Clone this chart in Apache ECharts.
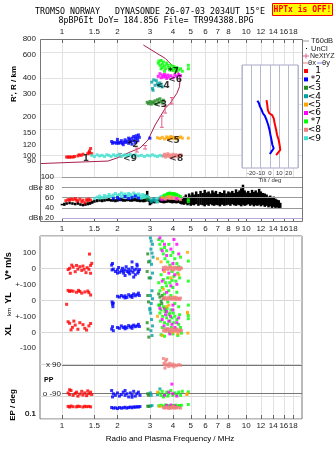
<!DOCTYPE html>
<html>
<head>
<meta charset="utf-8">
<script src="https://cdn.jsdelivr.net/npm/echarts@6/dist/echarts.min.js"></script>
<style>
  html, body { margin: 0; padding: 0; background: #fff; }
  #chart { width: 335px; height: 451px; }
</style>
</head>
<body>
<div id="chart"></div>
<script>
const lg = Math.log10

// axis ranges (MHz, km, dB)
const fMin = 0.76, fMax = 20.07
const hMin = 67.9, hMax = 800
const dbMin = 12.6, dbMax = 100
const lowMin = -942, lowMax = 202
// lower panel rows share one scale: 1 unit = 1 m/s = 1 km = 1 deg
const ylZero = -200, xlZero = -400, ppZero = -694
const epTen = -865, epDecade = 22.8

const freqTicks = [1, 1.5, 2, 3, 4, 5, 6, 7, 8, 10, 12, 14, 16, 18]
const dbFreqTicks = [1, 1.5, 2, 3, 4, 5, 6, 7, 8, 9, 10, 12, 14, 16, 18]
const heightTicks = [80, 90, 100, 120, 150, 200, 300, 400, 600, 800]
const dbTicks = [20, 40, 60, 80, 100]
const lowTicks = [100, 0, -100, -200, -300, -400, -500, -865, -910.6]
const lowTickText = ['100', '0', '+-100', '0', '+-100', '0', '-100', '10.', '0.1']
const tiltTicks = [-20, -10, 0, 10, 20]

const classNames = ['1', '*2', '<3', '<4', '<5', '<6', '*7', '<8', '<9']
const classColors = ['#ff0000', '#0000ff', '#228b22', '#00a0a0', '#ffa500', '#ff00ff', '#00ff00', '#f08080', '#40e0d0']

// echoes: [freq MHz, virtual height km, class]
const echoHeights = [
  [1.06,97,1],[1.08,97,1],[1.1,97,1],[1.12,97,1],[1.15,97,1],[1.17,98,1],[1.22,99,1],[1.24,101,1],[1.27,100,1],[1.3,102,1],[1.38,103,1],[1.4,105,1],[1.42,104,1],[1.45,103,1],[1.41,108,1],[1.43,113,1],
  [1.86,128,2],[1.88,124,2],[1.92,126,2],[1.97,124,2],[2.0,127,2],[2.03,124,2],[2.07,126,2],[2.1,130,2],[2.12,124,2],[2.17,127,2],[2.2,132,2],[2.22,126,2],[2.26,129,2],[2.3,124,2],[2.33,133,2],[2.36,128,2],[2.4,136,2],[2.43,130,2],[2.45,140,2],[2.5,135,2],[2.53,142,2],[2.56,136,2],[2.6,144,2],[2.63,138,2],[2.3,136,2],[2.15,121,2],[2.4,122,2],[2.5,126,2],[2.58,130,2],[2.0,133,2],[3.0,136,2],
  [1.45,100,9],[1.5,98,9],[1.55,101,9],[1.6,99,9],[1.65,100,9],[1.7,98,9],[1.75,101,9],[1.8,100,9],[1.85,98,9],[1.9,101,9],[1.95,99,9],[2.0,100,9],[2.05,102,9],[2.1,98,9],[2.15,100,9],[2.2,101,9],[2.25,99,9],[2.3,100,9],[2.35,102,9],[2.4,98,9],[2.45,100,9],[2.5,101,9],[2.6,99,9],[2.7,100,9],[2.8,98,9],[2.9,100,9],[3.0,99,9],[3.1,101,9],[3.2,99,9],[3.3,98,9],[3.4,100,9],[3.5,99,9],
  [3.55,99,8],[3.6,102,8],[3.65,97,8],[3.7,100,8],[3.75,103,8],[3.8,98,8],[3.85,101,8],[3.9,96,8],[3.95,99,8],[4.0,102,8],[4.05,97,8],[4.1,100,8],[4.15,101,8],[4.2,98,8],[4.25,100,8],[4.3,99,8],[4.4,101,8],[4.45,100,8],
  [3.3,137,5],[3.4,135,5],[3.5,138,5],[3.6,134,5],[3.7,139,5],[3.75,136,5],[3.8,133,5],[3.85,137,5],[3.9,140,5],[3.95,135,5],[4.0,138,5],[4.1,136,5],[4.2,134,5],[4.3,137,5],[4.4,139,5],[4.5,136,5],[4.85,136,5],
  [2.9,258,3],[2.95,252,3],[3.0,262,3],[3.05,250,3],[3.1,260,3],[3.15,255,3],[3.2,265,3],[3.25,250,3],[3.3,270,3],[3.35,258,3],[3.4,275,3],[3.45,262,3],[3.5,255,3],[3.55,268,3],
  [3.07,370,4],[3.1,330,4],[3.12,320,4],[3.2,350,4],[3.25,380,4],[3.3,360,4],[3.35,345,4],[3.4,365,4],[3.45,350,4],[3.5,340,4],[3.15,385,4],
  [3.33,410,6],[3.4,430,6],[3.45,400,6],[3.5,420,6],[3.55,405,6],[3.6,425,6],[3.65,410,6],[3.7,395,6],[3.75,420,6],[3.8,405,6],[3.9,415,6],[4.0,400,6],[4.1,420,6],[4.2,410,6],[4.3,425,6],[4.4,415,6],
  [3.33,520,7],[3.36,540,7],[3.4,500,7],[3.45,545,7],[3.5,510,7],[3.5,480,7],[3.55,530,7],[3.6,495,7],[3.65,470,7],[3.7,520,7],[3.75,500,7],[3.8,480,7],[3.85,460,7],[3.9,500,7],[3.95,470,7],[4.0,455,7],[4.05,490,7],[4.1,470,7],[4.15,450,7],[4.2,480,7],[4.3,460,7],[4.4,470,7],[4.5,450,7],[4.85,500,7],[4.85,470,7],[3.6,450,7],[3.45,470,7]
]

// echo amplitudes: [freq MHz, dB, class]
const echoAmplitudes = [
  [1.05,54,1],[1.08,56,1],[1.1,55,1],[1.12,57,1],[1.15,56,1],[1.18,58,1],[1.2,55,1],[1.22,53,1],[1.25,57,1],[1.28,52,1],[1.3,55,1],[1.33,50,1],[1.36,56,1],[1.38,54,1],[1.4,57,1],[1.43,55,1],
  [1.5,58,9],[1.55,61,9],[1.6,63,9],[1.65,60,9],[1.7,64,9],[1.75,62,9],[1.8,66,9],[1.85,63,9],[1.9,65,9],[1.95,68,9],[2.0,64,9],[2.05,66,9],[2.1,69,9],[2.15,65,9],[2.2,67,9],[2.25,64,9],[2.3,68,9],[2.35,66,9],[2.4,63,9],[2.45,69,9],[2.5,66,9],[2.55,64,9],[2.6,67,9],[2.65,65,9],[2.7,62,9],[2.75,66,9],[2.8,64,9],[2.85,61,9],[2.9,63,9],[2.95,60,9],
  [1.6,59,9],[1.7,60,9],[1.8,62,9],[1.9,61,9],[2.0,61,9],[2.1,62,9],[2.2,61,9],[2.3,63,9],[2.4,60,9],[2.5,62,9],[2.6,61,9],[2.7,59,9],[2.8,60,9],[3.2,56,9],[3.3,58,9],[3.4,60,9],[3.45,62,9],[3.5,59,9],[3.55,61,9],[3.25,53,9],[3.3,51,9],
  [1.9,58,2],[2.0,60,2],[2.05,57,2],[2.2,62,2],[2.3,58,2],[2.4,60,2],[2.5,63,2],[2.6,59,2],
  [3.0,56,4],[3.05,52,4],[3.1,55,4],[3.15,58,4],[3.2,54,4],
  [2.9,57,3],[3.4,57,3],
  [3.55,58,8],[3.6,60,8],[3.65,57,8],[3.7,61,8],[3.75,59,8],[3.8,62,8],[3.85,58,8],[3.9,60,8],[3.95,61,8],[4.0,59,8],[4.05,62,8],[4.1,58,8],[4.15,60,8],[4.2,57,8],[4.3,59,8],[4.4,56,8],
  [3.55,63,7],[3.6,65,7],[3.7,66,7],[3.75,68,7],[3.8,67,7],[3.85,69,7],[3.9,67,7],[3.95,68,7],[4.0,66,7],[4.05,68,7],[4.1,67,7],[4.15,65,7],[4.2,66,7],[4.3,64,7],[4.4,62,7],[4.85,52,7],[4.85,56,7],
  [3.45,58,6],[3.5,56,6],[4.2,58,6],
  [3.5,60,5],[3.8,62,5]
]

// noise band under the echoes: [freq MHz, low dB, high dB]
const noiseBand = [
  [1.0,45,48],[1.03,44,50],[1.06,46,51],[1.1,47,52],[1.14,46,51],[1.18,45,50],[1.22,46,52],[1.26,44,49],[1.3,43,48],[1.34,44,50],[1.38,45,51],[1.42,46,52],[1.46,48,54],[1.5,50,56],
  [1.55,51,57],[1.6,52,58],[1.65,51,57],[1.7,52,58],[1.75,53,58],[1.8,53,59],[1.85,52,57],[1.9,52,58],[1.95,51,57],[2.0,52,57],[2.05,53,58],[2.1,53,59],[2.15,52,58],[2.2,52,57],[2.25,53,58],[2.3,53,58],[2.35,52,57],[2.4,52,58],[2.45,53,59],[2.5,53,59],[2.55,52,58],[2.6,52,57],[2.65,51,57],[2.7,52,58],[2.75,51,57],[2.8,51,58],[2.85,52,66],[2.9,54,73],[2.95,52,63],[3.0,45,55],
  [3.05,47,55],[3.1,50,56],[3.15,49,55],[3.2,49,55],[3.25,50,56],[3.3,50,57],[3.35,51,57],[3.4,51,56],[3.45,50,56],[3.5,50,57],[3.55,49,55],[3.6,49,55],[3.65,50,56],[3.7,50,56],[3.75,51,57],[3.8,51,57],[3.85,50,56],[3.9,50,56],[3.95,49,56],[4.0,49,55],[4.05,50,56],[4.1,50,56],[4.15,49,55],[4.2,49,55],[4.25,50,56],[4.3,50,56],[4.35,49,55],[4.4,48,55],[4.45,47,56],[4.5,47,58],
  [4.6,46,62],[4.7,48,66],[4.8,45,60],[4.9,47,68],[5.0,44,64],[5.1,46,70],[5.2,45,66],[5.35,47,72],[5.5,44,67],[5.65,46,73],[5.8,45,69],[5.95,43,75],[6.1,46,70],[6.25,44,72],[6.4,47,68],[6.55,45,74],[6.7,44,70],[6.85,46,73],
  [7.0,45,67],[7.2,43,71],[7.4,46,69],[7.6,44,74],[7.8,45,68],[8.0,46,72],[8.2,44,70],[8.4,47,73],[8.6,45,69],[8.8,44,76],[9.0,46,71],[9.2,45,74],[9.4,43,78],[9.6,46,85],[9.8,44,74],
  [10.0,45,70],[10.25,47,73],[10.5,44,69],[10.75,46,75],[11.0,43,71],[11.25,45,74],[11.5,44,70],[11.75,46,77],[12.0,43,72],[12.3,45,69],[12.6,42,68],[12.9,44,66],[13.2,41,62],[13.5,43,64],[13.8,40,60],[14.1,42,62],[14.4,40,58],[14.7,41,56],[15.0,39,55],[15.3,40,50]
]

// V* (m/s), YL (km), XL (km), PP (deg), EP (deg): [freq MHz, value, class]
const echoVelocity = [
  [1.08,-8,1],[1.1,0,1],[1.11,-31,1],[1.13,20,1],[1.15,8,1],[1.18,-21,1],[1.2,18,1],[1.22,-5,1],[1.25,10,1],[1.28,-13,1],[1.3,14,1],[1.32,-6,1],[1.35,-27,1],[1.37,4,1],[1.4,-6,1],[1.41,89,1],[1.43,-31,1],[1.45,31,1],[1.43,18,1],
  [1.86,20,2],[1.87,-10,2],[1.88,30,2],[1.9,-5,2],[1.95,-20,2],[2.0,-10,2],[2.03,5,2],[2.06,-25,2],[2.1,-15,2],[2.13,0,2],[2.16,-30,2],[2.2,-10,2],[2.23,10,2],[2.26,-20,2],[2.3,-5,2],[2.33,-35,2],[2.36,-15,2],[2.4,5,2],[2.43,-25,2],[2.46,-10,2],[2.5,-40,2],[2.53,-5,2],[2.56,15,2],[2.6,-20,2],[2.63,-8,2],[2.4,40,2],[2.55,25,2],[2.2,-45,2],[2.45,-55,2],[2.0,-30,2],[2.3,-25,2],[2.15,-18,2],[2.58,-30,2],
  [3.02,190,4],[3.05,170,4],[3.1,150,4],[3.04,120,4],[3.08,95,4],[3.12,70,4],[3.0,45,4],[3.06,25,4],[3.1,-30,4],[3.03,-60,4],
  [2.92,90,3],[2.95,40,3],[2.9,-20,3],[2.97,-60,3],
  [3.35,180,7],[3.4,150,7],[3.45,120,7],[3.5,170,7],[3.55,90,7],[3.6,130,7],[3.62,60,7],[3.7,110,7],[3.75,40,7],[3.8,150,7],[3.85,20,7],[3.9,80,7],[3.95,-20,7],[4.0,100,7],[4.05,-50,7],[4.1,60,7],[4.15,-80,7],[4.2,30,7],[4.25,-30,7],[4.3,10,7],[4.35,-60,7],[4.4,70,7],[3.45,-40,7],[3.55,-70,7],[3.65,-90,7],[3.75,-60,7],[3.85,-90,7],[3.95,-75,7],[4.85,45,7],[4.85,-80,7],
  [3.4,190,6],[3.5,110,6],[3.6,150,6],[3.7,80,6],[3.8,-30,6],[3.9,120,6],[4.0,30,6],[4.05,180,6],[4.1,-40,6],[4.2,150,6],[3.55,-10,6],[4.3,90,6],
  [3.3,60,5],[3.6,-20,5],[3.9,-60,5],[4.3,-40,5],[4.8,100,5],[3.45,40,5],
  [3.55,5,8],[3.6,-5,8],[3.65,8,8],[3.7,0,8],[3.75,-8,8],[3.8,6,8],[3.85,-3,8],[3.9,10,8],[3.95,-6,8],[4.0,3,8],[4.05,-10,8],[4.1,7,8],[4.15,-2,8],[4.2,5,8],[4.25,-5,8],[4.3,2,8],[4.35,-8,8],[4.4,4,8],[4.45,0,8]
]
const echoYL = [
  [1.08,62,1],[1.1,55,1],[1.12,60,1],[1.15,57,1],[1.2,50,1],[1.23,62,1],[1.25,55,1],[1.28,45,1],[1.33,52,1],[1.38,58,1],[1.4,48,1],[1.43,33,1],[1.06,-25,1],
  [1.87,-10,2],[1.88,-25,2],[1.89,-40,2],[1.9,-18,2],[2.0,25,2],[2.05,20,2],[2.1,30,2],[2.15,22,2],[2.2,28,2],[2.25,18,2],[2.3,35,2],[2.35,25,2],[2.4,30,2],[2.45,40,2],[2.5,28,2],[2.55,35,2],[2.6,45,2],[2.63,30,2],[2.2,15,2],[2.4,18,2],
  [3.02,30,4],[3.05,-20,4],[3.08,60,4],[3.1,10,4],[3.0,-60,4],
  [2.92,30,3],[2.95,-10,3],[3.35,40,3],[3.4,20,3],[3.45,-5,3],[3.5,30,3],[3.55,10,3],[3.38,-30,3],[3.48,-20,3],
  [3.35,110,7],[3.4,60,7],[3.5,80,7],[3.6,40,7],[3.7,90,7],[3.75,-10,7],[3.8,60,7],[3.9,30,7],[4.0,80,7],[4.1,-20,7],[4.2,50,7],[4.3,-40,7],[3.65,-60,7],[3.85,-80,7],[4.85,-30,7],
  [3.5,120,6],[3.7,50,6],[3.9,90,6],[4.0,-30,6],[4.2,100,6],[3.6,-50,6],
  [3.55,70,5],[3.8,-30,5],[4.1,20,5],[4.8,-75,5],
  [3.55,12,8],[3.6,18,8],[3.65,8,8],[3.7,15,8],[3.75,5,8],[3.8,20,8],[3.85,10,8],[3.9,14,8],[3.95,6,8],[4.0,18,8],[4.05,9,8],[4.1,13,8],[4.15,4,8],[4.2,16,8],[4.25,8,8],[4.3,11,8],[4.35,5,8],[4.4,14,8]
]
const echoXL = [
  [1.08,66,1],[1.1,56,1],[1.14,31,1],[1.16,70,1],[1.18,45,1],[1.22,19,1],[1.25,60,1],[1.3,48,1],[1.33,25,1],[1.36,14,1],[1.4,40,1],[1.43,55,1],[1.12,15,1],
  [1.86,20,2],[1.88,35,2],[1.9,10,2],[2.0,30,2],[2.05,25,2],[2.1,40,2],[2.15,30,2],[2.2,35,2],[2.25,28,2],[2.3,42,2],[2.35,32,2],[2.4,38,2],[2.45,45,2],[2.5,35,2],[2.55,40,2],[2.6,50,2],[2.63,36,2],[2.2,22,2],[2.4,25,2],
  [3.0,150,4],[3.03,120,4],[3.06,80,4],[3.1,40,4],[3.04,10,4],[3.08,-20,4],
  [2.9,60,3],[2.93,20,3],[2.96,-30,3],
  [3.35,170,7],[3.4,120,7],[3.42,70,7],[3.45,140,7],[3.5,30,7],[3.52,100,7],[3.55,160,7],[3.6,60,7],[3.62,130,7],[3.65,20,7],[3.7,90,7],[3.72,150,7],[3.75,50,7],[3.8,110,7],[3.82,0,7],[3.85,70,7],[3.9,140,7],[3.92,30,7],[3.95,90,7],[4.0,-10,7],[4.02,120,7],[4.05,60,7],[4.1,100,7],[4.15,20,7],[4.2,80,7],[4.25,-20,7],[4.3,50,7],[4.35,110,7],[4.4,30,7],[4.45,-5,7],[3.45,-15,7],[3.6,-25,7],[4.85,85,7],[4.85,105,7],
  [3.4,150,6],[3.5,80,6],[3.58,40,6],[3.65,110,6],[3.7,130,6],[3.75,20,6],[3.8,70,6],[3.88,100,6],[3.95,50,6],[4.0,140,6],[4.1,30,6],[4.2,60,6],[4.3,90,6],[3.85,-10,6],
  [3.3,100,5],[3.5,-20,5],[3.7,160,5],[4.0,0,5],[4.25,-10,5],[4.8,120,5],[4.82,-5,5],
  [3.55,10,8],[3.6,20,8],[3.65,5,8],[3.7,15,8],[3.75,22,8],[3.8,8,8],[3.85,18,8],[3.9,3,8],[3.95,14,8],[4.0,25,8],[4.05,10,8],[4.1,16,8],[4.15,6,8],[4.2,20,8],[4.25,12,8],[4.3,2,8],[4.35,15,8],[4.4,8,8],[4.45,12,8]
]
const echoPol = [
  [1.08,-85,1],[1.1,-95,1],[1.12,-70,1],[1.15,-100,1],[1.18,-88,1],[1.2,-80,1],[1.22,-105,1],[1.25,-92,1],[1.28,-75,1],[1.3,-98,1],[1.33,-85,1],[1.36,-102,1],[1.38,-72,1],[1.4,-90,1],[1.43,-80,1],[1.45,-95,1],[1.1,-65,1],
  [1.86,-70,2],[1.88,-110,2],[1.9,-90,2],[1.95,-100,2],[2.0,-85,2],[2.05,-105,2],[2.1,-95,2],[2.15,-80,2],[2.2,-100,2],[2.25,-90,2],[2.3,-110,2],[2.35,-85,2],[2.4,-98,2],[2.45,-75,2],[2.5,-105,2],[2.55,-90,2],[2.6,-80,2],[2.65,-100,2],[2.2,-70,2],[2.4,-112,2],
  [3.02,-85,4],[3.05,-100,4],[3.4,-60,4],[3.3,-95,4],
  [2.92,-90,3],[2.95,-100,3],
  [3.35,-85,7],[3.45,-100,7],[3.5,-75,7],[3.6,-95,7],[3.7,-80,7],[3.75,-105,7],[3.8,-90,7],[3.9,-70,7],[4.0,-100,7],[4.1,-85,7],[4.2,-95,7],[4.3,-80,7],[4.4,-100,7],[4.5,-75,7],[4.85,-78,7],[3.55,-110,7],
  [3.6,-100,6],[3.8,-80,6],[4.0,-90,6],[3.95,-30,6],[4.2,-105,6],
  [3.3,-80,5],[4.75,-95,5],[4.8,-90,5],
  [3.55,130,8],[3.58,100,8],[3.6,92,8],[3.65,115,8],[3.7,88,8],[3.75,95,8],[3.8,80,8],[3.85,100,8],[3.9,90,8],[3.95,85,8],[4.0,95,8],[4.05,78,8],[4.1,90,8],[4.2,85,8],[4.3,92,8],[4.4,88,8],[3.7,125,8],[3.62,70,8]
]
const echoEP = [
  [1.08,12,1],[1.1,8,1],[1.12,15,1],[1.15,10,1],[1.2,9,1],[1.22,14,1],[1.25,11,1],[1.3,8,1],[1.33,13,1],[1.36,10,1],[1.4,12,1],[1.43,9,1],
  [1.86,6,2],[1.9,4,2],[1.95,5,2],[2.0,3,2],[2.05,6,2],[2.1,4,2],[2.15,5,2],[2.2,7,2],[2.25,4,2],[2.3,6,2],[2.35,8,2],[2.4,5,2],[2.45,9,2],[2.5,7,2],[2.55,10,2],[2.6,8,2],[2.65,11,2],
  [3.35,18,7],[3.45,25,7],[3.55,15,7],[3.65,30,7],[3.75,20,7],[3.85,14,7],[3.95,22,7],[4.05,18,7],[4.15,26,7],[4.25,16,7],[4.35,20,7],[4.45,24,7],[4.85,40,7],
  [3.02,15,4],[3.08,20,4],[2.92,14,3],[2.96,12,3],
  [3.7,22,6],[3.9,28,6],[4.1,16,6],[3.4,12,5],[4.0,10,5],
  [3.55,6,8],[3.6,4,8],[3.65,8,8],[3.7,5,8],[3.75,7,8],[3.8,3,8],[3.85,6,8],[3.9,4,8],[3.95,8,8],[4.0,5,8],[4.05,6,8],[4.1,4,8],[4.15,7,8],[4.2,5,8],[4.3,6,8],[4.4,4,8]
]

// real-height profile [freq MHz, km] and its error bars [freq, low km, high km]
const profile = [
  [0.76,86.3],[1.253,88.7],[1.78,90.3],[2.016,96.1],[2.343,106.1],[2.653,113.9],[2.93,131.5],[3.202,171.9],[3.41,199.4],[3.63,231.7],[3.864,253.3],[4.027,277],[4.203,302.9],[4.341,341],[4.379,396],[4.255,445.8],[4.027,487.5],[3.63,566.5],[3.271,619.6],[2.766,718.5]
]
const profileBars = [
  [2.066,97,103.3],[2.547,106.1,113.9],[2.826,111.9,119.2],[3.482,165,201.9],[3.63,213,241.4],[3.947,250,281]
]
const echoTags = [
  [1.35,94.8,'1'],[2.43,122,'*2'],[3.41,246,'<3'],[3.53,345,'<4'],[4.0,131,'<5'],[4.11,389,'<6'],[4.03,446,'*7'],[4.17,95,'<8'],[2.34,95,'<9']
]

// tilt profiles: [deg, km]
const tiltX = [
  [-3.7,268],[-2.9,245],[-2.3,224],[-0.8,212],[2.3,205],[4,193.5],[5,177],[6.6,157],[7.6,143.7],[9.3,131.5],[10.3,120.2],[11,110],[9.3,106.6],[6.6,100.5]
]
const tiltY = [
  [-13.5,265.6],[-11.8,253],[-10.7,238.5],[-8.9,224.5],[-7.6,211.9],[-5.5,202],[-3.7,187.9],[-1.9,171.8],[-0.5,157.4],[0.5,143.7],[1.6,131.5],[2.6,120.2],[4,113.3],[2.3,108.6],[-0.2,102.3]
]

const fmtFreq = v => String(Math.round(Math.pow(10, v) * 10) / 10)
const fmtHeight = v => String(Math.round(Math.pow(10, v)))
const fmtLow = v => {
  const i = lowTicks.findIndex(t => Math.abs(t - v) < 0.5)
  return i < 0 ? '' : lowTickText[i]
}
const fmtDb = v => (v === 80 ? 'dBe 80' : v === 20 ? 'dBn 20' : String(v))
const colorOf = p => classColors[p.value[2] - 1]

const lowPoints = [].concat(
  echoVelocity.map(([f, v, c]) => [lg(f), v, c]),
  echoYL.map(([f, v, c]) => [lg(f), ylZero + v, c]),
  echoXL.map(([f, v, c]) => [lg(f), xlZero + v, c]),
  echoPol.map(([f, v, c]) => [lg(f), ppZero + v, c]),
  echoEP.map(([f, v, c]) => [lg(f), epTen + epDecade * (lg(v) - 1), c])
)

const labelFont = { fontSize: 8, color: '#222', fontFamily: 'Liberation Sans' }
const freqAxis = (gridIndex, position, ticks, grid) => ({
  type: 'value', gridIndex, position,
  min: lg(fMin), max: lg(fMax),
  axisLine: { show: false, onZero: false },
  axisTick: { show: true, inside: true, length: 4, customValues: ticks.map(lg), lineStyle: { color: '#666' } },
  axisLabel: Object.assign({ customValues: ticks.map(lg), formatter: fmtFreq, margin: 3, hideOverlap: false }, labelFont),
  splitLine: { show: grid, lineStyle: { color: '#e2e2e2', width: 1 } }
})

const hline = (x0, y, color) => [{ coord: [x0, y], lineStyle: { color } }, { coord: [lg(fMax), y] }]

const text = (x, y, str, extra) => ({
  type: 'text', x, y, z: 20,
  style: Object.assign({ text: str, font: '8px "Liberation Sans"', fill: '#222', textAlign: 'left', textVerticalAlign: 'middle' }, extra || {})
})
const vtext = (x, y, str, font) => ({
  type: 'text', x, y, z: 20, rotation: Math.PI / 2,
  style: { text: str, font, fill: '#000', textAlign: 'center', textVerticalAlign: 'middle' }
})

const legendItems = classNames.map((name, i) => [
  { type: 'rect', z: 20, shape: { x: 304, y: 69 + i * 8.4, width: 4, height: 4 }, style: { fill: classColors[i] } },
  text(321, 71 + i * 8.4, name, { textAlign: 'right', font: '9px "DejaVu Sans"', fill: '#000' })
]).flat()

const chart = echarts.init(document.getElementById('chart'), null, { renderer: 'canvas' })
chart.setOption({
  animation: false,
  backgroundColor: '#fff',
  textStyle: { fontFamily: 'Liberation Sans' },
  grid: [
    { left: 40, top: 39, width: 262, height: 138, outerBoundsMode: 'none' },
    { left: 40, top: 177, width: 262, height: 45, outerBoundsMode: 'none' },
    { left: 40, top: 236, width: 262, height: 183, show: true, borderColor: '#777', borderWidth: 1, outerBoundsMode: 'none' },
    { left: 242, top: 65, width: 56, height: 103, z: 5, show: true, backgroundColor: '#fff', borderColor: '#a8a8c8', borderWidth: 1, outerBoundsMode: 'none' }
  ],
  xAxis: [
    freqAxis(0, 'top', freqTicks, true),
    freqAxis(1, 'bottom', dbFreqTicks, false),
    freqAxis(2, 'bottom', freqTicks, true),
    {
      type: 'value', gridIndex: 3, min: -30, max: 30, interval: 10, z: 6,
      axisLine: { show: false, onZero: false }, axisTick: { show: false },
      axisLabel: { customValues: tiltTicks, fontSize: 6, color: '#333', margin: 2, hideOverlap: false },
      splitLine: { show: true, lineStyle: { color: '#b8b8d0' } },
      name: 'Tilt / deg', nameLocation: 'middle', nameGap: 9, nameTextStyle: { fontSize: 6, color: '#333' }
    }
  ],
  yAxis: [
    {
      type: 'value', gridIndex: 0, min: lg(hMin), max: lg(hMax),
      axisLine: { show: false, onZero: false }, axisTick: { show: false },
      axisLabel: Object.assign({ customValues: heightTicks.map(lg), formatter: fmtHeight, margin: 4, hideOverlap: false }, labelFont),
      splitLine: { show: true, lineStyle: { color: '#e2e2e2' } }
    },
    {
      type: 'value', gridIndex: 1, min: dbMin, max: dbMax,
      axisLine: { show: false, onZero: false }, axisTick: { show: false },
      axisLabel: Object.assign({ customValues: dbTicks, formatter: fmtDb, inside: true, align: 'right', margin: 14, hideOverlap: false }, labelFont),
      splitLine: { show: false }
    },
    {
      type: 'value', gridIndex: 2, min: lowMin, max: lowMax,
      axisLine: { show: false, onZero: false }, axisTick: { show: false },
      axisLabel: Object.assign({ customValues: lowTicks, formatter: fmtLow, margin: 4, hideOverlap: false, showMinLabel: true, showMaxLabel: true }, labelFont),
      splitLine: { show: true, lineStyle: { color: '#d8d8d8' } }
    },
    { type: 'value', gridIndex: 3, min: lg(79.7), max: lg(502), show: false }
  ],
  series: [
    {
      type: 'line', xAxisIndex: 0, yAxisIndex: 0, z: 3,
      data: profile.map(([f, r]) => [lg(f), lg(r)]),
      showSymbol: false, lineStyle: { color: '#a8204c', width: 1 }
    },
    {
      type: 'custom', xAxisIndex: 0, yAxisIndex: 0, z: 4,
      data: profileBars.map(([f, a, b]) => [lg(f), lg(a), lg(b)]),
      encode: { x: 0, y: [1, 2] },
      renderItem: (params, api) => {
        const a = api.coord([api.value(0), api.value(1)])
        const b = api.coord([api.value(0), api.value(2)])
        const s = { stroke: '#e0608a', lineWidth: 1 }
        return {
          type: 'group', children: [
            { type: 'line', shape: { x1: a[0], y1: a[1], x2: b[0], y2: b[1] }, style: s },
            { type: 'line', shape: { x1: a[0] - 2, y1: a[1], x2: a[0] + 2, y2: a[1] }, style: s },
            { type: 'line', shape: { x1: b[0] - 2, y1: b[1], x2: b[0] + 2, y2: b[1] }, style: s }
          ]
        }
      }
    },
    {
      type: 'scatter', xAxisIndex: 0, yAxisIndex: 0, z: 5,
      symbol: 'rect', symbolSize: 3,
      data: echoHeights.map(([f, r, c]) => [lg(f), lg(r), c]),
      itemStyle: { color: colorOf }
    },
    {
      type: 'scatter', xAxisIndex: 0, yAxisIndex: 0, z: 6,
      symbolSize: 1, itemStyle: { color: 'rgba(0,0,0,0)' },
      data: echoTags.map(([f, r, t]) => ({ value: [lg(f), lg(r)], name: t })),
      label: { show: true, position: 'inside', formatter: '{b}', fontSize: 9, fontWeight: 'bold', color: '#000', fontFamily: 'DejaVu Sans' }
    },
    {
      type: 'line', xAxisIndex: 3, yAxisIndex: 3, z: 7,
      data: tiltX.map(([d, r]) => [d, lg(r)]), showSymbol: false,
      lineStyle: { color: '#ff0000', width: 2 }
    },
    {
      type: 'line', xAxisIndex: 3, yAxisIndex: 3, z: 7,
      data: tiltY.map(([d, r]) => [d, lg(r)]), showSymbol: false,
      lineStyle: { color: '#0000ff', width: 2 }
    },
    {
      type: 'custom', xAxisIndex: 1, yAxisIndex: 1, z: 3,
      data: noiseBand.map(([f, a, b]) => [lg(f), a, b]),
      encode: { x: 0, y: [1, 2] },
      renderItem: (params, api) => {
        const a = api.coord([api.value(0), api.value(1)])
        const b = api.coord([api.value(0), api.value(2)])
        return { type: 'rect', shape: { x: a[0] - 1.25, y: b[1], width: 2.5, height: a[1] - b[1] }, style: { fill: '#000' } }
      },
      markLine: {
        silent: true, symbol: 'none', label: { show: false }, lineStyle: { type: 'solid', width: 1 },
        data: [
          hline(0, 100, '#999'), hline(0, 80, '#999'), hline(0, 60, '#999'), hline(0, 40, '#999'), hline(0, 20, '#b8a8d8')
        ]
      }
    },
    {
      type: 'scatter', xAxisIndex: 1, yAxisIndex: 1, z: 5,
      symbol: 'rect', symbolSize: 3,
      data: echoAmplitudes.map(([f, d, c]) => [lg(f), d, c]),
      itemStyle: { color: colorOf }
    },
    {
      type: 'scatter', xAxisIndex: 2, yAxisIndex: 2, z: 5,
      symbol: 'rect', symbolSize: 3,
      data: lowPoints,
      itemStyle: { color: colorOf },
      markLine: {
        silent: true, symbol: 'none', label: { show: false }, lineStyle: { type: 'solid', width: 1 },
        data: [hline(0, ppZero + 90, '#777'), hline(0, ppZero - 90, '#777')]
      }
    }
  ],
  graphic: [
    text(150, 12, 'TROMSO NORWAY   DYNASONDE 26-07-03 2034UT 15°E', { textAlign: 'center', font: '8.3px "DejaVu Sans Mono"', fill: '#000' }),
    text(156, 21, '8pBP6It DoY= 184.856 File= TR994388.BPG', { textAlign: 'center', font: '8.3px "DejaVu Sans Mono"', fill: '#000' }),
    { type: 'rect', z: 20, shape: { x: 272.5, y: 3.5, width: 60, height: 12 }, style: { fill: '#ffff00', stroke: '#ff0000', lineWidth: 1 } },
    text(302.5, 10, 'HPTx is OFF!', { textAlign: 'center', font: 'bold 8px "DejaVu Sans Mono"', fill: '#ff0000' }),
    { type: 'rect', z: 20, shape: { x: 40.5, y: 39.5, width: 262, height: 182 }, style: { fill: 'none', stroke: '#777', lineWidth: 1 } },
    // legend
    { type: 'line', z: 20, shape: { x1: 303, y1: 41, x2: 309, y2: 41 }, style: { stroke: '#999', lineWidth: 1 } },
    text(311, 41, 'T60dB', { font: '7.5px "Liberation Sans"' }),
    { type: 'rect', z: 20, shape: { x: 306, y: 48, width: 1, height: 1 }, style: { fill: '#000' } },
    text(311, 49, 'UnCl', { font: '7.5px "Liberation Sans"' }),
    { type: 'line', z: 20, shape: { x1: 303, y1: 56, x2: 309, y2: 56 }, style: { stroke: '#e0608a', lineWidth: 1 } },
    { type: 'line', z: 20, shape: { x1: 306, y1: 53.5, x2: 306, y2: 58.5 }, style: { stroke: '#e0608a', lineWidth: 1 } },
    text(310, 56, 'NeXtYZ', { font: '7px "Liberation Sans"' }),
    { type: 'line', z: 20, shape: { x1: 303, y1: 63, x2: 308, y2: 63 }, style: { stroke: '#f08080', lineWidth: 1 } },
    text(308, 63, 'θx', { font: '7.5px "Liberation Sans"' }),
    { type: 'line', z: 20, shape: { x1: 317, y1: 63, x2: 322, y2: 63 }, style: { stroke: '#8080f0', lineWidth: 1 } },
    text(322, 63, 'θy', { font: '7.5px "Liberation Sans"' }),
    ...legendItems,
    // axis titles and in-panel labels
    vtext(14, 84, "R', R / km", 'bold 8px "Liberation Sans"'),
    vtext(9, 266, 'V* m/s', 'bold 9px "Liberation Sans"'),
    vtext(9, 298, 'YL', 'bold 9px "Liberation Sans"'),
    vtext(9, 312, 'km', '6px "Liberation Sans"'),
    vtext(9, 330, 'XL', 'bold 9px "Liberation Sans"'),
    vtext(13, 405, 'EP / deg', 'bold 8px "Liberation Sans"'),
    text(44, 380, 'PP', { font: 'bold 7px "Liberation Sans"', fill: '#000' }),
    text(61, 365, 'x 90', { textAlign: 'right' }),
    text(61, 394, 'o -90', { textAlign: 'right' }),
    text(36, 414, '0.1', { textAlign: 'right' }),
    text(170, 439, 'Radio and Plasma Frequency / MHz', { textAlign: 'center', fill: '#000' })
  ]
})
</script>
</body>
</html>
